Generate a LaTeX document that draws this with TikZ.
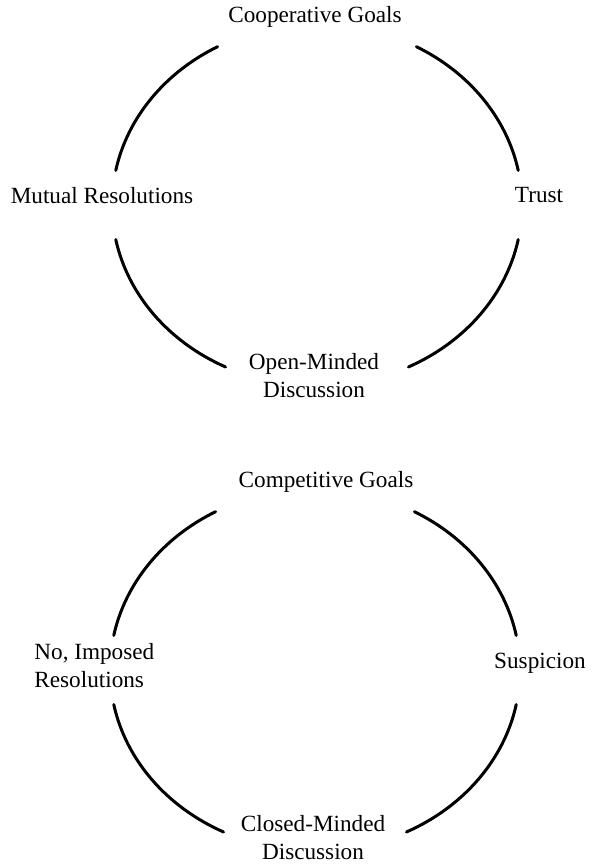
\documentclass[tikz,border=0pt]{standalone}
\usepackage{fontspec}
\setmainfont{Liberation Serif}

\begin{document}
\begin{tikzpicture}[x=0.5pt,y=0.5pt,line cap=round,line join=round,
        cyclearc/.style={line width=1.5pt},
        cyclelabel/.style={font=\fontsize{11.6}{14}\selectfont,align=center,inner sep=0pt}]
        \useasboundingbox (0,0) rectangle (593,866);

        % cooperative cycle
        \coordinate (coop) at (317,661);
        \foreach \a/\b in {11/61,119/169,191/243.5,296.5/349} {
            \draw[cyclearc] (coop) ++(\a:205 and 181)
                arc[start angle=\a,end angle=\b,x radius=205,y radius=181];
        }
        \node[cyclelabel] (coopgoals) at (315,849) {Cooperative Goals};
        \node[cyclelabel] (trust) at (539,671) {Trust};
        \node[cyclelabel] (openmind) at (314,490) {Open-Minded\\Discussion};
        \node[cyclelabel] (mutualres) at (102,670) {Mutual Resolutions};

        % competitive cycle
        \coordinate (comp) at (315,196);
        \foreach \a/\b in {11/61,119/169,191/243.5,296.5/349} {
            \draw[cyclearc] (comp) ++(\a:205 and 181)
                arc[start angle=\a,end angle=\b,x radius=205,y radius=181];
        }
        \node[cyclelabel] (compgoals) at (326,384) {Competitive Goals};
        \node[cyclelabel] (suspicion) at (540,203) {Suspicion};
        \node[cyclelabel] (closedmind) at (313,28) {Closed-Minded\\Discussion};
        \node[cyclelabel,align=left,anchor=west] (imposedres) at (34,200) {No, Imposed\\Resolutions};
    \end{tikzpicture}
\end{document}
